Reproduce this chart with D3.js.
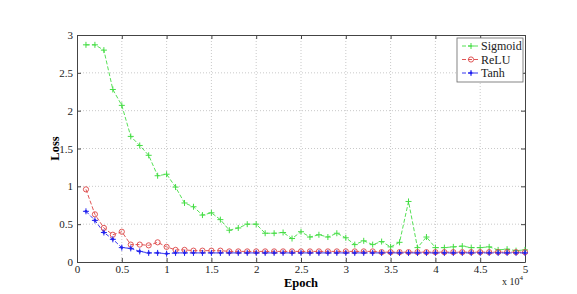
<!DOCTYPE html>
<html><head><meta charset="utf-8">
<script src="https://cdn.jsdelivr.net/npm/d3@7/dist/d3.min.js"></script>
<style>body{margin:0;background:#fff} svg text{font-family:"Liberation Serif","Times New Roman",serif}</style>
</head><body><svg id="c" width="577" height="294"></svg>
<script>
const epochs = d3.range(1, 51).map(i => i * 1000);
const sigmoid = [2.87,2.87,2.80,2.28,2.07,1.66,1.54,1.41,1.14,1.16,
  0.99,0.78,0.73,0.62,0.65,0.56,0.42,0.45,0.50,0.50,
  0.38,0.38,0.39,0.31,0.40,0.33,0.36,0.33,0.38,0.32,
  0.23,0.28,0.23,0.27,0.20,0.26,0.80,0.19,0.33,0.19,
  0.19,0.20,0.21,0.19,0.19,0.20,0.16,0.17,0.15,0.16];
const relu = [0.96,0.63,0.45,0.36,0.40,0.23,0.23,0.22,0.26,0.20,
  0.16,0.16,0.15,0.15,0.15,0.15,0.14,0.14,0.14,0.14,
  0.14,0.14,0.14,0.14,0.14,0.14,0.14,0.14,0.14,0.14,
  0.14,0.14,0.14,0.13,0.13,0.13,0.13,0.13,0.13,0.13,
  0.13,0.13,0.13,0.13,0.13,0.13,0.13,0.13,0.13,0.13];
const tanh = [0.67,0.55,0.39,0.30,0.19,0.18,0.14,0.12,0.12,0.11,
  0.12,0.12,0.12,0.12,0.12,0.12,0.12,0.12,0.12,0.12,
  0.12,0.12,0.12,0.12,0.12,0.12,0.12,0.12,0.12,0.12,
  0.12,0.12,0.12,0.12,0.12,0.12,0.12,0.12,0.12,0.12,
  0.12,0.12,0.12,0.12,0.12,0.12,0.12,0.12,0.12,0.12];
const seriesNames = ["Sigmoid","ReLU","Tanh"];
const xTicks = [0,0.5,1,1.5,2,2.5,3,3.5,4,4.5,5];
const yTicks = [0,0.5,1,1.5,2,2.5,3];

const svg = d3.select("#c");
const L=77,R=525,T=35,B=262;
const x = d3.scaleLinear().domain([0,50000]).range([L,R]);
const y = d3.scaleLinear().domain([0,3]).range([B,T]);

// grid
const g = svg.append("g");
g.selectAll(".gx").data(xTicks.slice(1,-1)).join("line")
  .attr("x1",d=>x(d*1e4)).attr("x2",d=>x(d*1e4)).attr("y1",T).attr("y2",B)
  .attr("stroke","#bbb").attr("stroke-width",0.8).attr("stroke-dasharray","1,2");
g.selectAll(".gy").data(yTicks.slice(1,-1)).join("line")
  .attr("y1",d=>y(d)).attr("y2",d=>y(d)).attr("x1",L).attr("x2",R)
  .attr("stroke","#bbb").attr("stroke-width",0.8).attr("stroke-dasharray","1,2");

// axes
svg.append("g").attr("transform",`translate(0,${B})`)
  .call(d3.axisBottom(x).tickValues(xTicks.map(d=>d*1e4)).tickFormat((d,i)=>String(xTicks[i])).tickSizeInner(-4).tickSizeOuter(0).tickPadding(3));
svg.append("g").attr("transform",`translate(${L},0)`)
  .call(d3.axisLeft(y).tickValues(yTicks).tickFormat(d=>String(d)).tickSizeInner(-4).tickSizeOuter(0).tickPadding(4));
svg.append("g").attr("transform",`translate(0,${T})`)
  .call(d3.axisTop(x).tickValues(xTicks.map(d=>d*1e4)).tickFormat("").tickSizeInner(-4).tickSizeOuter(0));
svg.append("g").attr("transform",`translate(${R},0)`)
  .call(d3.axisRight(y).tickValues(yTicks).tickFormat("").tickSizeInner(-4).tickSizeOuter(0));
svg.selectAll(".domain").attr("stroke","#444");
svg.selectAll(".tick line").attr("stroke","#444");
svg.selectAll(".tick text").attr("font-size",11).attr("fill","#222");

// series
const data = [sigmoid, relu, tanh];
const colors = ["#44dd44","#dd4444","#2222ee"];
const line = d3.line().x((d,i)=>x(epochs[i])).y(d=>y(d));
data.forEach((s,k)=>{
  svg.append("path").datum(s).attr("d",line).attr("fill","none")
    .attr("stroke",colors[k]).attr("stroke-width",0.9).attr("stroke-dasharray","4,2");
});
function marker(sel,k,cx,cy){
  if(k===0){
    sel.append("path").attr("d",`M${cx-3},${cy}H${cx+3}M${cx},${cy-3}V${cy+3}`).attr("stroke",colors[0]).attr("stroke-width",1);
  } else if(k===1){
    sel.append("circle").attr("cx",cx).attr("cy",cy).attr("r",2.6).attr("fill","none").attr("stroke",colors[1]).attr("stroke-width",0.9);
  } else {
    sel.append("path").attr("d",`M${cx-3},${cy}H${cx+3}M${cx},${cy-3}V${cy+3}`).attr("stroke",colors[2]).attr("stroke-width",1);
    sel.append("circle").attr("cx",cx).attr("cy",cy).attr("r",1.4).attr("fill",colors[2]);
  }
}
data.forEach((s,k)=>{
  const mg = svg.append("g");
  s.forEach((v,i)=>marker(mg,k,x(epochs[i]),y(v)));
});

// legend
const lg = svg.append("g");
lg.append("rect").attr("x",457).attr("y",38).attr("width",66).attr("height",44)
  .attr("fill","#fff").attr("stroke","#666").attr("stroke-width",0.8);
seriesNames.forEach((n,k)=>{
  const ly = 46 + k*13.5;
  lg.append("line").attr("x1",462).attr("x2",480).attr("y1",ly).attr("y2",ly)
    .attr("stroke",colors[k]).attr("stroke-width",0.9).attr("stroke-dasharray","4,2");
  marker(lg,k,471,ly);
  lg.append("text").attr("x",481).attr("y",ly+4).text(n)
    .attr("font-size",12).attr("fill","#222");
});

// labels
svg.append("text").attr("x",(L+R)/2).attr("y",287).attr("text-anchor","middle")
  .attr("font-weight","bold").attr("font-size",12.5).text("Epoch");
svg.append("text").attr("transform",`translate(59,${(T+B)/2}) rotate(-90)`).attr("text-anchor","middle")
  .attr("font-weight","bold").attr("font-size",12.5).text("Loss");
const ex = svg.append("text").attr("x",502).attr("y",285).attr("font-size",10).attr("fill","#222");
ex.append("tspan").text("x 10");
ex.append("tspan").attr("dy",-5).attr("font-size",7).text("4");
</script></body></html>
